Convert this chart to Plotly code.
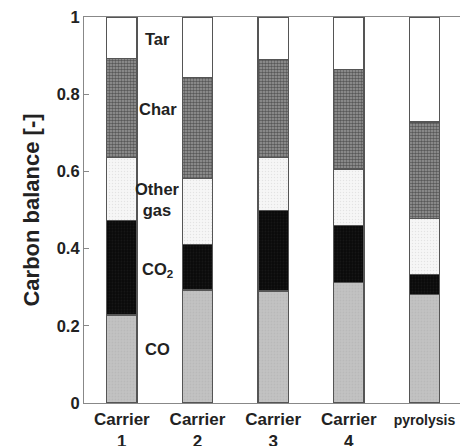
import plotly.graph_objects as go

categories = ["Carrier 1", "Carrier 2", "Carrier 3", "Carrier 4", "pyrolysis"]
tick_labels = ["<b>Carrier<br>1</b>", "<b>Carrier<br>2</b>", "<b>Carrier<br>3</b>", "<b>Carrier<br>4</b>",
               "<b><span style='font-size:14px'>pyrolysis</span></b>"]
co = [0.228, 0.293, 0.290, 0.313, 0.282]
co2 = [0.244, 0.118, 0.208, 0.146, 0.051]
other_gas = [0.164, 0.171, 0.139, 0.147, 0.145]
char = [0.257, 0.262, 0.252, 0.259, 0.250]
tar = [0.107, 0.156, 0.111, 0.135, 0.272]

label_names = ["Tar", "Char", "Other<br>gas", "CO<sub>2</sub>", "CO"]
label_y = [0.943, 0.762, 0.526, 0.345, 0.14]

FONT = "Liberation Sans, Arial"
x = list(range(len(categories)))
line = dict(color="#555555", width=1.2)

fig = go.Figure()
fig.add_bar(x=x, y=co, name="CO", width=0.4,
            marker=dict(color="#c2c2c2", line=line,
                        pattern=dict(shape=".", fgcolor="#b0b0b0", size=3, solidity=0.3)))
fig.add_bar(x=x, y=co2, name="CO2", width=0.4,
            marker=dict(color="#0a0a0a", line=line,
                        pattern=dict(shape=".", fgcolor="#222222", size=3, solidity=0.3)))
fig.add_bar(x=x, y=other_gas, name="Other gas", width=0.4,
            marker=dict(color="#f6f6f6", line=line,
                        pattern=dict(shape=".", fgcolor="#cfcfcf", bgcolor="#f6f6f6", size=3, solidity=0.2)))
fig.add_bar(x=x, y=char, name="Char", width=0.4,
            marker=dict(color="#8a8a8a", line=line,
                        pattern=dict(shape=".", fgcolor="#151515", bgcolor="#9a9a9a", size=3, solidity=0.55)))
fig.add_bar(x=x, y=tar, name="Tar", width=0.4,
            marker=dict(color="white", line=line))

for name, yy in zip(label_names, label_y):
    fig.add_annotation(x=0.476, y=yy, text="<b>" + name + "</b>", showarrow=False,
                       font=dict(family=FONT, size=16.5, color="#222222"),
                       xanchor="center", yanchor="middle")

fig.update_layout(
    barmode="stack",
    width=460, height=446,
    margin=dict(l=84, r=0, t=17, b=43),
    paper_bgcolor="white", plot_bgcolor="white",
    showlegend=False,
    font=dict(family=FONT, color="#222222"),
    xaxis=dict(range=[-0.5, 4.47], tickvals=x, ticktext=tick_labels, automargin=False,
               showline=True, linecolor="#888888", linewidth=1.2, mirror=True,
               ticks="", showgrid=False, zeroline=False,
               tickfont=dict(size=17, family=FONT, color="#222222")),
    yaxis=dict(range=[0, 1], tickvals=[0, 0.2, 0.4, 0.6, 0.8, 1], automargin=False,
               ticktext=["<b>0</b>", "<b>0.2</b>", "<b>0.4</b>", "<b>0.6</b>", "<b>0.8</b>", "<b>1</b>"],
               showline=True, linecolor="#888888", linewidth=1.2,
               ticks="inside", ticklen=5, tickcolor="#888888",
               showgrid=False, zeroline=False,
               tickfont=dict(size=16.5, family=FONT, color="#222222"),
               title=dict(text="<b>Carbon balance [-]</b>", standoff=10,
                          font=dict(size=22, family=FONT, color="#222222"))),
)

fig.write_html("out.html")
